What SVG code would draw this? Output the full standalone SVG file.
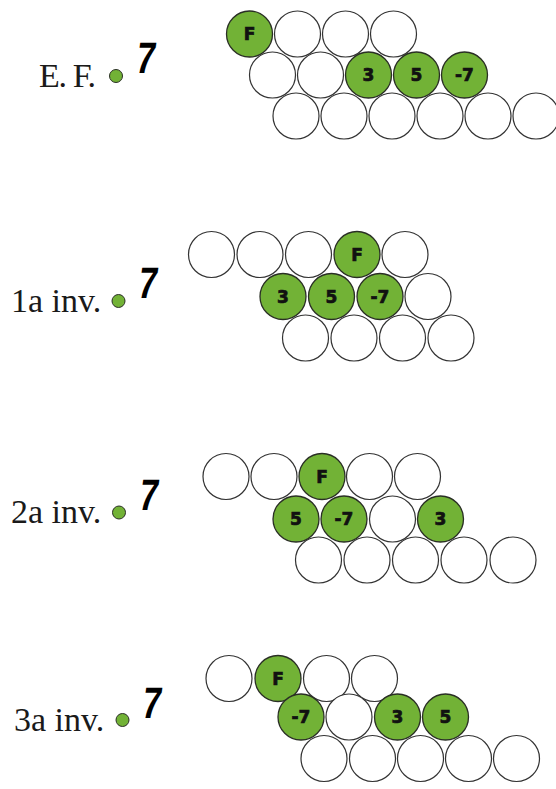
<svg xmlns="http://www.w3.org/2000/svg" width="556" height="789" viewBox="0 0 556 789">
<style>
.w{fill:#fff;stroke:#333;stroke-width:1.2}
.g{fill:#72b236;stroke:#2a2f25;stroke-width:1.3}
.n{font-family:"DejaVu Sans","Liberation Sans",sans-serif;font-weight:bold;font-size:17px;fill:#111;stroke:#111;stroke-width:0.7;text-anchor:middle}
.lbl{font-family:"Liberation Serif","Times New Roman",serif;font-size:34px;fill:#1a1a1a}
.dot{fill:#72b236;stroke:#2a2f25;stroke-width:1}
.sev{font-family:"Liberation Sans","DejaVu Sans",sans-serif;font-weight:bold;font-size:44px;fill:#000;text-anchor:middle}
</style>
<rect width="556" height="789" fill="#fff"/>

<g id="sec-ef">
  <g id="ef-label"><text class="lbl" x="39" y="87" textLength="57">E. F.</text><circle class="dot" cx="116" cy="76" r="6.5"/><text class="sev" transform="translate(144,73) skewX(-8) scale(0.78,1)">7</text></g>
  <g id="ef-r1"><circle class="w" cx="297.5" cy="34" r="23"/><circle class="w" cx="345.5" cy="34" r="23"/><circle class="w" cx="393.5" cy="34" r="23"/></g>
  <g id="ef-r2"><circle class="w" cx="272.5" cy="75" r="23"/><circle class="w" cx="320.5" cy="75" r="23"/></g>
  <g id="ef-r3"><circle class="w" cx="296" cy="116" r="23"/><circle class="w" cx="344" cy="116" r="23"/><circle class="w" cx="392" cy="116" r="23"/><circle class="w" cx="440" cy="116" r="23"/><circle class="w" cx="488" cy="116" r="23"/><circle class="w" cx="536" cy="116" r="23"/></g>
  <g id="ef-F"><circle class="g" cx="249.5" cy="34" r="23"/><text class="n" x="249.5" y="40">F</text></g>
  <g id="ef-3"><circle class="g" cx="368.5" cy="75" r="23"/><text class="n" x="368.5" y="81">3</text></g>
  <g id="ef-5"><circle class="g" cx="416.5" cy="75" r="23"/><text class="n" x="416.5" y="81">5</text></g>
  <g id="ef-m7"><circle class="g" cx="464.5" cy="75" r="23"/><text class="n" x="464.5" y="81">-7</text></g>
</g>

<g id="sec-1a">
  <g id="i1-label"><text class="lbl" x="11" y="312">1a inv.</text><circle class="dot" cx="118.5" cy="301" r="6.5"/><text class="sev" transform="translate(146,298) skewX(-8) scale(0.78,1)">7</text></g>
  <g id="i1-r1"><circle class="w" cx="211.5" cy="254.5" r="23"/><circle class="w" cx="260" cy="254.5" r="23"/><circle class="w" cx="308.5" cy="254.5" r="23"/><circle class="w" cx="405" cy="254.5" r="23"/></g>
  <g id="i1-r2"><circle class="w" cx="428" cy="296.5" r="23"/></g>
  <g id="i1-r3"><circle class="w" cx="305.5" cy="338" r="23"/><circle class="w" cx="354" cy="338" r="23"/><circle class="w" cx="402.5" cy="338" r="23"/><circle class="w" cx="451" cy="338" r="23"/></g>
  <g id="i1-F"><circle class="g" cx="357" cy="254.5" r="23"/><text class="n" x="357" y="260.5">F</text></g>
  <g id="i1-3"><circle class="g" cx="283" cy="296.5" r="23"/><text class="n" x="283" y="302.5">3</text></g>
  <g id="i1-5"><circle class="g" cx="331.5" cy="296.5" r="23"/><text class="n" x="331.5" y="302.5">5</text></g>
  <g id="i1-m7"><circle class="g" cx="380" cy="296.5" r="23"/><text class="n" x="380" y="302.5">-7</text></g>
</g>

<g id="sec-2a">
  <g id="i2-label"><text class="lbl" x="11" y="523">2a inv.</text><circle class="dot" cx="119" cy="512.5" r="6.5"/><text class="sev" transform="translate(147,510) skewX(-8) scale(0.78,1)">7</text></g>
  <g id="i2-r1"><circle class="w" cx="226" cy="476.5" r="23"/><circle class="w" cx="274" cy="476.5" r="23"/><circle class="w" cx="369.5" cy="476.5" r="23"/><circle class="w" cx="417.5" cy="476.5" r="23"/></g>
  <g id="i2-r2"><circle class="w" cx="392.5" cy="519" r="23"/></g>
  <g id="i2-r3"><circle class="w" cx="318.5" cy="560" r="23"/><circle class="w" cx="367" cy="560" r="23"/><circle class="w" cx="415.5" cy="560" r="23"/><circle class="w" cx="464" cy="560" r="23"/><circle class="w" cx="513" cy="560" r="23"/></g>
  <g id="i2-F"><circle class="g" cx="322" cy="476.5" r="23"/><text class="n" x="322" y="482.5">F</text></g>
  <g id="i2-5"><circle class="g" cx="296" cy="519" r="23"/><text class="n" x="296" y="525">5</text></g>
  <g id="i2-m7"><circle class="g" cx="344" cy="519" r="23"/><text class="n" x="344" y="525">-7</text></g>
  <g id="i2-3"><circle class="g" cx="440.5" cy="519" r="23"/><text class="n" x="440.5" y="525">3</text></g>
</g>

<g id="sec-3a">
  <g id="i3-label"><text class="lbl" x="14" y="731">3a inv.</text><circle class="dot" cx="122.5" cy="720" r="6.5"/><text class="sev" transform="translate(150,718) skewX(-8) scale(0.78,1)">7</text></g>
  <g id="i3-r1"><circle class="w" cx="229" cy="678.5" r="23"/><circle class="w" cx="326.5" cy="678.5" r="23"/><circle class="w" cx="374.5" cy="678.5" r="23"/></g>
  <g id="i3-r2"><circle class="w" cx="349" cy="717" r="23"/></g>
  <g id="i3-r3"><circle class="w" cx="324" cy="758.5" r="23"/><circle class="w" cx="372.5" cy="758.5" r="23"/><circle class="w" cx="420.5" cy="758.5" r="23"/><circle class="w" cx="468.5" cy="758.5" r="23"/><circle class="w" cx="516.5" cy="758.5" r="23"/></g>
  <g id="i3-F"><circle class="g" cx="278" cy="678.5" r="23"/><text class="n" x="278" y="684.5">F</text></g>
  <g id="i3-m7"><circle class="g" cx="301" cy="717" r="23"/><text class="n" x="301" y="723">-7</text></g>
  <g id="i3-3"><circle class="g" cx="397.5" cy="717" r="23"/><text class="n" x="397.5" y="723">3</text></g>
  <g id="i3-5"><circle class="g" cx="445.5" cy="717" r="23"/><text class="n" x="445.5" y="723">5</text></g>
</g>
</svg>
